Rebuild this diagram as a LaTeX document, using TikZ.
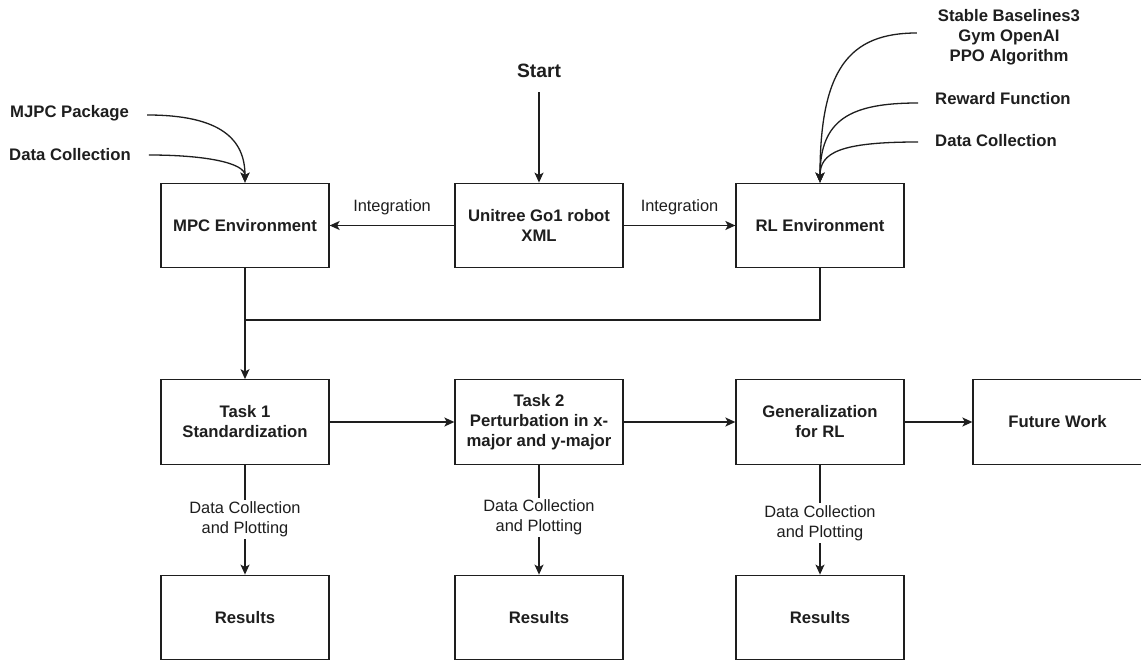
\documentclass[tikz,border=0pt]{standalone}
\usepackage{fontspec}
\setmainfont{Liberation Sans}
\usetikzlibrary{arrows.meta}
\definecolor{ink}{RGB}{30,30,30}
\begin{document}
\begin{tikzpicture}[x=1pt,y=-1pt,
  box/.style={draw=ink, line width=1.3pt, minimum width=168pt, minimum height=84.5pt, inner sep=0pt, align=center, font=\fontsize{16.7}{20}\selectfont\bfseries, text=ink},
  side/.style={font=\fontsize{16.7}{20}\selectfont\bfseries, text=ink, inner sep=0pt, align=center},
  elab/.style={font=\fontsize{16.4}{20}\selectfont, text=ink, inner sep=0pt, align=center},
  arr/.style={draw=ink, line width=1.3pt, -{Stealth[length=10pt,width=9pt,inset=2.5pt]}},
  ln/.style={draw=ink, line width=1.3pt}]
\useasboundingbox (0,0) rectangle (1141,660);
\fill[white] (0,0) rectangle (1141,660);

% boxes
\node[box] (mpc) at (245,225.5) {MPC Environment};
\node[box] (uni) at (539,225.5) {Unitree Go1 robot\\XML};
\node[box] (rl)  at (820,225.5) {RL Environment};
\node[box] (t1)  at (245,422) {Task 1\\Standardization};
\node[box] (t2)  at (539,422) {Task 2\\Perturbation in x-\\major and y-major};
\node[box] (gen) at (820,422) {Generalization\\for RL};
\node[box, minimum width=169pt] (fw) at (1057.5,422) {Future Work};
\node[box] (r1)  at (245,617.5) {Results};
\node[box] (r2)  at (539,617.5) {Results};
\node[box] (r3)  at (820,617.5) {Results};

% free texts
\node[side, font=\fontsize{19.3}{22}\selectfont\bfseries] (start) at (539,71) {Start};
\node[side, anchor=west] (mjpc) at (10,113) {MJPC Package};
\node[side, anchor=west] (dcl)  at (9,155) {Data Collection};
\node[side] (sb) at (1009,37) {Stable Baselines3\\Gym OpenAI\\PPO Algorithm};
\node[side, anchor=west] (rf)  at (935,99) {Reward Function};
\node[side, anchor=west] (dcr) at (935,141) {Data Collection};

% start
\draw[arr, shorten <=14pt] (start) -- (uni);

% integration
\draw[arr] (uni) -- (mpc) node[elab, midway, above=10pt] {Integration};
\draw[arr] (uni) -- (rl) node[elab, midway, above=10pt] {Integration};

% curved inputs, left
\draw[arr] ([xshift=18pt,yshift=-2pt]mjpc.east) .. controls +(74,0) and +(0,-43) .. (mpc.north);
\draw[arr] ([xshift=18pt]dcl.east) .. controls +(55,0) and +(0,-20) .. (mpc.north);

% curved inputs, right
\draw[arr] ([xshift=-21pt,yshift=4pt]sb.west) .. controls +(-68,0) and +(0,-113) .. (rl.north);
\draw[arr] ([xshift=-17pt,yshift=-4pt]rf.west) .. controls +(-68,0) and +(0,-63) .. (rl.north);
\draw[arr] ([xshift=-17pt,yshift=-1pt]dcr.west) .. controls +(-78,0) and +(0,-30) .. (rl.north);

% merge
\coordinate (j) at (245,320);
\draw[ln] (mpc.south) -- (j);
\draw[ln] (rl.south) |- (j);
\draw[arr] (j) -- (t1.north);

% row 2
\draw[arr] (t1) -- (t2);
\draw[arr] (t2) -- (gen);
\draw[arr] (gen) -- (fw);

% row 3
\draw[arr] (t1) -- (r1) node[elab, pos=0.5, fill=white, inner sep=2pt] {Data Collection\\and Plotting};
\draw[arr] (t2) -- (r2) node[elab, pos=0.48, fill=white, inner sep=2pt] {Data Collection\\and Plotting};
\draw[arr] (gen) -- (r3) node[elab, pos=0.53, fill=white, inner sep=2pt] {Data Collection\\and Plotting};
\end{tikzpicture}
\end{document}
